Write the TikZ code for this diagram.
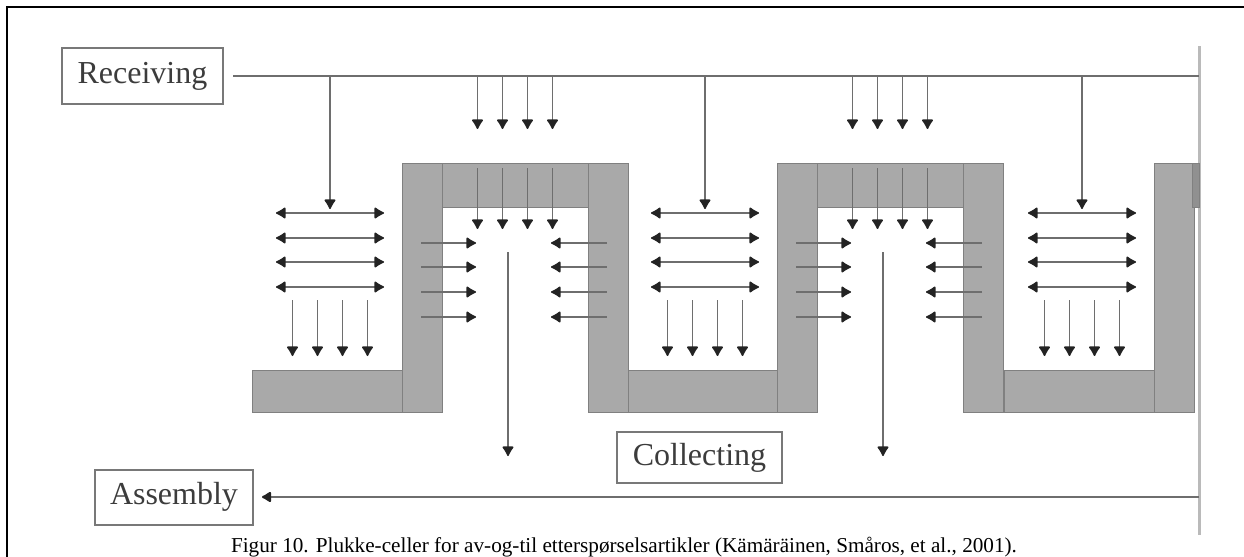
\documentclass[tikz,border=0pt]{standalone}
\usepackage{fontspec}
\setmainfont{Liberation Serif}
\usetikzlibrary{arrows.meta}
\definecolor{rackgray}{RGB}{169,169,169}
\definecolor{rackedge}{RGB}{128,128,128}
\definecolor{flowgray}{RGB}{110,110,110}
\definecolor{tipgray}{RGB}{35,35,35}
\definecolor{boxgray}{RGB}{120,120,120}
\definecolor{txtgray}{RGB}{60,60,60}

\tikzset{
  dot/.tip={Latex[length=5.5pt,width=6.5pt,round,color=tipgray]},
  rack/.style={fill=rackgray,draw=rackedge,line width=0.5pt},
  flow/.style={draw=flowgray,line width=0.85pt,-dot},
  flowboth/.style={flow,dot-dot},
  mainline/.style={draw=flowgray,line width=1.1pt},
  areabox/.style={draw=boxgray,line width=1pt,inner sep=0pt,text=txtgray,font=\fontsize{16}{18}\selectfont}
}

\begin{document}
\begin{tikzpicture}[x=0.5pt,y=-0.5pt]
  \useasboundingbox (0,0) rectangle (1244,557);
  % frame
  \draw[line width=1.4pt] (7,557) -- (7,7) -- (1244,7);

  % Receiving, Collecting, Assembly
  \node[areabox,minimum width=80.5pt,minimum height=28pt] (recv) at (142.5,76) {Receiving};
  \node[areabox,minimum width=82.5pt,minimum height=25.5pt] (coll) at (699.5,457.5) {Collecting};
  \node[areabox,minimum width=79pt,minimum height=27.5pt] (asm) at (174,497) {Assembly};
  \coordinate (rtop) at (1199,46);
  \coordinate (rbot) at (1199,535);
  \coordinate (rrecv) at (1199,76);
  \coordinate (rasm) at (1199,497);
  \draw[draw=rackgray!80,line width=1.5pt] (rtop) -- (rbot);
  \draw[mainline] ([xshift=4.5pt]recv.east) -- (rrecv);
  \draw[mainline,-dot] (rasm) -- ([xshift=4pt]asm.east);

  % picking cells: shelf, pillar and the arrows
  \foreach \c in {330,705,1082} {
    \draw[rack] (\c-78,370) rectangle (\c+72,412);
    \draw[rack] (\c+72,163) rectangle (\c+112,412);
    \draw[flow] (\c,76) -- (\c,209);
    \foreach \y in {213,238,262,287}
      \draw[flowboth] (\c-54,\y) -- (\c+54,\y);
    \foreach \dx in {-37.5,-12.5,12.5,37.5}
      \draw[flow] (\c+\dx,300) -- (\c+\dx,356);
  }
  \draw[rack,fill=rackgray!85!black] (1192,163) rectangle (1199,207);

  % U-shaped racks between the cells
  \foreach \u in {515,890} {
    \draw[rack] (\u-73,163) rectangle (\u+73,207);
    \draw[rack] (\u+73,163) rectangle (\u+113,412);
    \foreach \dx in {-37.5,-12.5,12.5,37.5} {
      \draw[flow] (\u+\dx,76) -- (\u+\dx,129);
      \draw[flow] (\u+\dx,168) -- (\u+\dx,229);
    }
    \foreach \y in {243,267,292,317} {
      \draw[flow] (\u-94,\y) -- (\u-39,\y);
      \draw[flow] (\u+92,\y) -- (\u+36,\y);
    }
    \draw[flow] (\u-7,252) -- (\u-7,456);
  }

  % caption
  \node[anchor=base,font=\fontsize{10.6}{12}\selectfont] (cap) at (624,552)
    {Figur 10. Plukke-celler for av-og-til etterspørselsartikler (Kämäräinen, Småros, et al., 2001).};
\end{tikzpicture}
\end{document}
